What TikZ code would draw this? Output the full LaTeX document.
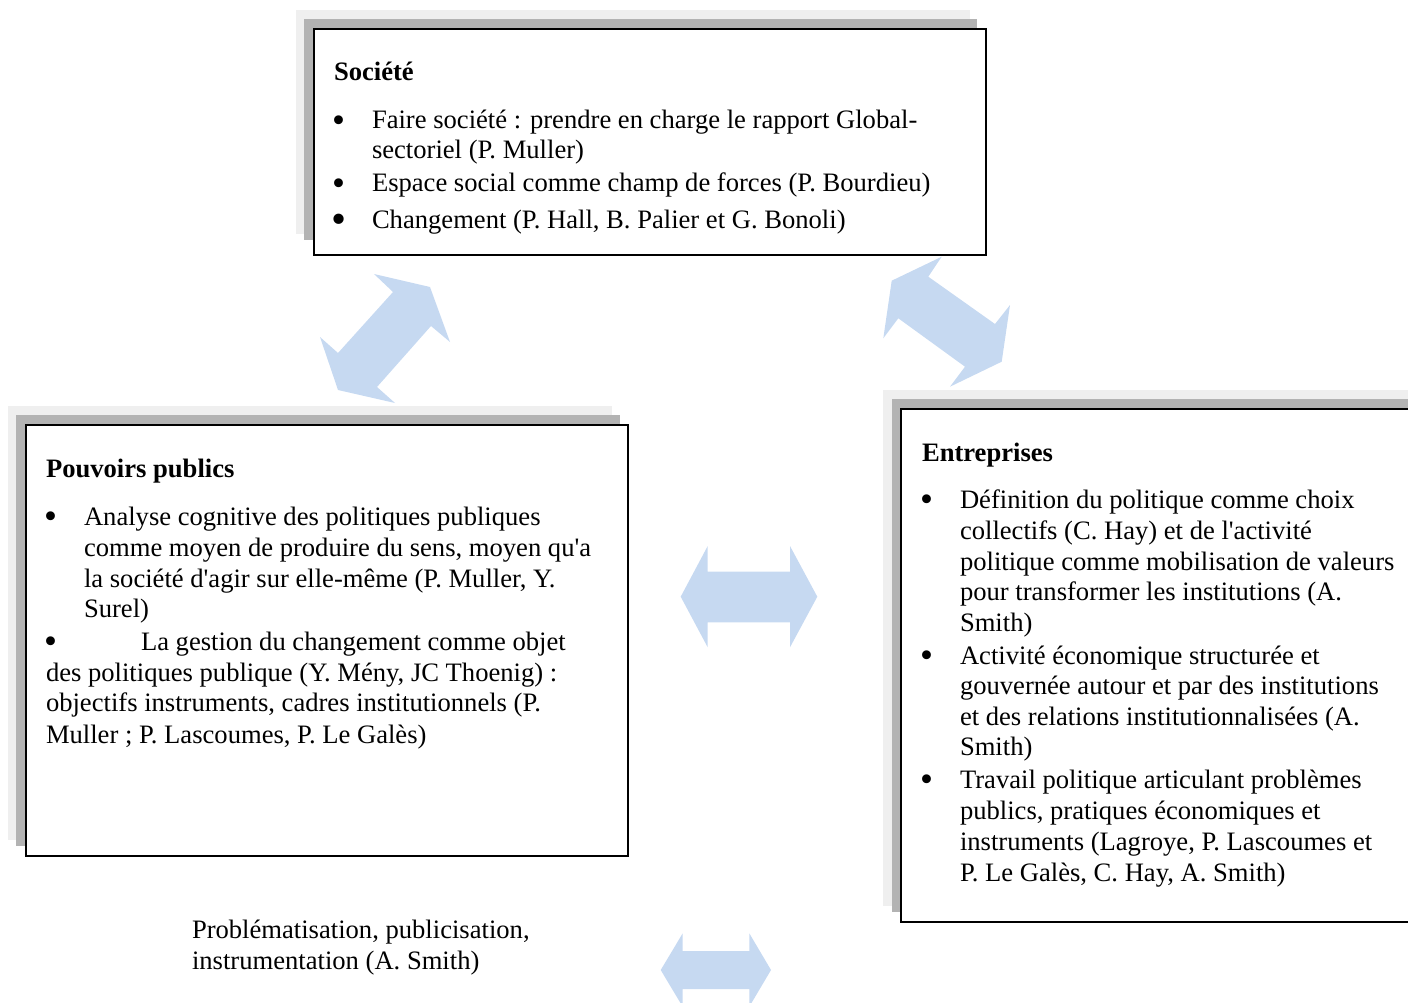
\documentclass[tikz,border=0pt]{standalone}
\usepackage{fontspec}
\setmainfont{Liberation Serif}
\newcommand\diafs{\fontsize{26.6}{30.6}\selectfont}
\newcommand\bigbul{\raisebox{-3.4pt}{\fontsize{37}{37}\selectfont •}}
\newcommand\hugebul{\raisebox{-4.6pt}{\fontsize{43}{43}\selectfont •}}
\definecolor{shlight}{HTML}{EFEFEF}
\definecolor{shdark}{HTML}{B3B3B3}
\definecolor{arrowblue}{HTML}{C6D9F1}
\begin{document}
\begin{tikzpicture}[x=1pt,y=-1pt,
  txt/.style={anchor=base west, inner sep=0pt, outer sep=0pt, font=\diafs},
  ttl/.style={txt, font=\diafs\bfseries},
  bul/.style={anchor=base west, inner sep=0pt, outer sep=0pt, font=\diafs},
  boxst/.style={draw=black, line width=1.8pt, fill=white, anchor=north west, inner sep=0pt},
  blockarrow/.style={fill=arrowblue, draw=none}]
\useasboundingbox (0,0) rectangle (1408,1003);

% ---------- shadows ----------
\fill[shlight] (296,10) rectangle (970,234);
\fill[shdark]  (304,19) rectangle (977,240);
\fill[shlight] (8,406) rectangle (612,840);
\fill[shdark]  (16,415) rectangle (620,846);
\fill[shlight] (883,390) rectangle (1420,906);
\fill[shdark]  (892,399) rectangle (1420,912);

% ---------- boxes ----------
\node[boxst, minimum width=672pt, minimum height=226pt] (socbox) at (313,28) {};
\node[boxst, minimum width=602pt, minimum height=431pt] (pouvbox) at (25,424) {};
\node[boxst, minimum width=520pt, minimum height=513pt] (entrbox) at (900,408) {};

% ---------- block arrows ----------
\fill[blockarrow] (374,274) -- (430,287) -- (450,342) -- (431,326) -- (377,387) -- (395,403)
  -- (338,390) -- (320,337) -- (338,353) -- (393,292) -- cycle;
\fill[blockarrow] (941.7,256.7) -- (928.3,276.7) -- (995,324) -- (1010,305) -- (1001.7,361.7)
  -- (950,386.7) -- (965,366.7) -- (898.3,318.3) -- (883.3,338.3) -- (891.7,280.7) -- cycle;
\fill[blockarrow] (680.7,596.7) -- (707.7,546) -- (707.7,571.7) -- (790,571.7) -- (790,546)
  -- (817.3,596.7) -- (790,647.3) -- (790,622.3) -- (707.7,622.3) -- (707.7,647.3) -- cycle;
\fill[blockarrow] (660.7,970) -- (682.7,933.3) -- (682.7,951) -- (749.3,951) -- (749.3,933.3)
  -- (771,970) -- (749.3,1006.7) -- (749.3,989) -- (682.7,989) -- (682.7,1006.7) -- cycle;

% ---------- Societe ----------
\node[ttl] (soct) at (334,81) {Société};
\node[bul] (socb1) at (332,129) {\bigbul};
\node[txt] (soc1a) at (372,129) {Faire société : prendre en charge le rapport Global-};
\node[txt] (soc1b) at (372,159) {sectoriel (P. Muller)};
\node[bul] (socb2) at (332,192) {\bigbul};
\node[txt] (soc2) at (372,192) {Espace social comme champ de forces (P. Bourdieu)};
\node[bul] (socb3) at (331,229) {\hugebul};
\node[txt] (soc3) at (372,229) {Changement (P. Hall, B. Palier et G. Bonoli)};

% ---------- Pouvoirs publics ----------
\node[ttl] (pouvt) at (46,477) {Pouvoirs publics};
\node[bul] (pouvb1) at (44,525) {\bigbul};
\node[txt] (pouv1a) at (84,525) {Analyse cognitive des politiques publiques};
\node[txt] (pouv1b) at (84,556) {comme moyen de produire du sens, moyen qu\textquotesingle a};
\node[txt] (pouv1c) at (84,587) {la société d\textquotesingle agir sur elle-même (P. Muller, Y.};
\node[txt] (pouv1d) at (84,617) {Surel)};
\node[bul] (pouvb2) at (44,650) {\bigbul};
\node[txt] (pouv2a) at (141,650) {La gestion du changement comme objet};
\node[txt] (pouv2b) at (46,681) {des politiques publique (Y. Mény, JC Thoenig) :};
\node[txt] (pouv2c) at (46,711) {objectifs instruments, cadres institutionnels (P.};
\node[txt] (pouv2d) at (46,743) {Muller ; P. Lascoumes, P. Le Galès)};

% ---------- Entreprises ----------
\node[ttl] (entrt) at (922,461) {Entreprises};
\node[bul] (entrb1) at (920,508) {\bigbul};
\node[txt] (entr1a) at (960,508) {Définition du politique comme choix};
\node[txt] (entr1b) at (960,539) {collectifs (C. Hay) et de l\textquotesingle activité};
\node[txt] (entr1c) at (960,570) {politique comme mobilisation de valeurs};
\node[txt] (entr1d) at (960,600) {pour transformer les institutions (A.};
\node[txt] (entr1e) at (960,631) {Smith)};
\node[bul] (entrb2) at (920,664) {\bigbul};
\node[txt] (entr2a) at (960,664) {Activité économique structurée et};
\node[txt] (entr2b) at (960,694) {gouvernée autour et par des institutions};
\node[txt] (entr2c) at (960,725) {et des relations institutionnalisées (A.};
\node[txt] (entr2d) at (960,755) {Smith)};
\node[bul] (entrb3) at (920,788) {\bigbul};
\node[txt] (entr3a) at (960,788) {Travail politique articulant problèmes};
\node[txt] (entr3b) at (960,819) {publics, pratiques économiques et};
\node[txt] (entr3c) at (960,850) {instruments (Lagroye, P. Lascoumes et};
\node[txt] (entr3d) at (960,881) {P. Le Galès, C. Hay, A. Smith)};

% ---------- bottom label ----------
\node[txt] (bot1) at (192,938) {Problématisation, publicisation,};
\node[txt] (bot2) at (192,969) {instrumentation (A. Smith)};
\end{tikzpicture}
\end{document}
